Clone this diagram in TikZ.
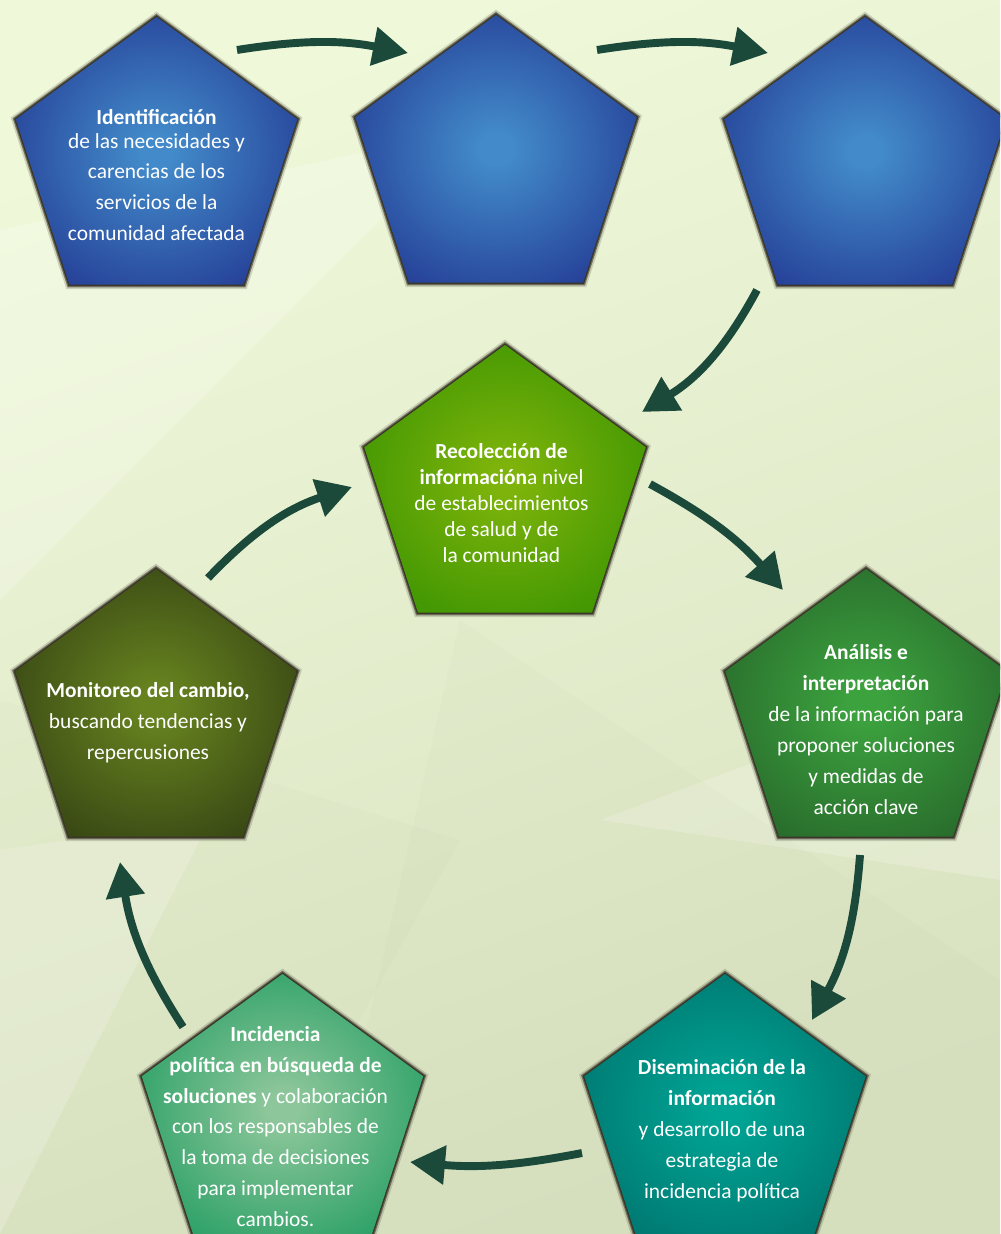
\documentclass[tikz,border=0pt]{standalone}
\usepackage{fontspec}
\setmainfont{Carlito}
\usetikzlibrary{arrows.meta, shapes.geometric}
\definecolor{ciclobg}{HTML}{EFF9DA}
\definecolor{ciclobgd}{HTML}{D8E1BF}
\definecolor{cicloarrow}{HTML}{1B4A3B}
\definecolor{cicloedge}{HTML}{2E281C}
\definecolor{blueinner}{HTML}{428AC9}
\definecolor{blueouter}{HTML}{1E2C8A}
\definecolor{limeinner}{HTML}{7DB30A}
\definecolor{limeouter}{HTML}{2E8E00}
\definecolor{greeninner}{HTML}{3CA23E}
\definecolor{greenouter}{HTML}{235C27}
\definecolor{oliveinner}{HTML}{66821F}
\definecolor{oliveouter}{HTML}{2B3611}
\definecolor{tealinner}{HTML}{00A494}
\definecolor{tealouter}{HTML}{006A66}
\definecolor{jadeinner}{HTML}{8CC69A}
\definecolor{jadeouter}{HTML}{0E9557}
\colorlet{pentin}{blueinner}
\colorlet{pentout}{blueouter}
\pgfdeclareradialshading[pentin,pentout]{pentshade}{\pgfpoint{0bp}{0bp}}{%
  color(0bp)=(pentin); color(3bp)=(pentin); color(37bp)=(pentout); color(50bp)=(pentout)}
\tikzset{
  >={Triangle[length=7mm, width=7.5mm]},
  pent/.style={regular polygon, regular polygon sides=5, minimum size=5.92cm,
               inner sep=0pt, outer sep=0pt, shading=pentshade,
               preaction={draw=cicloedge, line width=5pt, opacity=0.18},
               preaction={draw=cicloedge, line width=3pt, opacity=0.55},
               preaction={draw=cicloedge, line width=1.6pt, opacity=0.8}},
  pentb/.style={pent, /utils/exec={\colorlet{pentin}{blueinner}\colorlet{pentout}{blueouter}}},
  pentl/.style={pent, /utils/exec={\colorlet{pentin}{limeinner}\colorlet{pentout}{limeouter}}},
  pentg/.style={pent, /utils/exec={\colorlet{pentin}{greeninner}\colorlet{pentout}{greenouter}}},
  pento/.style={pent, /utils/exec={\colorlet{pentin}{oliveinner}\colorlet{pentout}{oliveouter}}},
  pentt/.style={pent, /utils/exec={\colorlet{pentin}{tealinner}\colorlet{pentout}{tealouter}}},
  pentj/.style={pent, /utils/exec={\colorlet{pentin}{jadeinner}\colorlet{pentout}{jadeouter}}},
  txt/.style={text=white, align=center, inner sep=0pt, font=\fontsize{12.2}{17.6}\selectfont},
  flow/.style={->, line width=4.5pt, draw=cicloarrow},
  facet/.style={fill=white, opacity=0.2, draw=none},
  facetd/.style={fill=ciclobgd!80!black, opacity=0.05, draw=none},
}

\begin{document}
\begin{tikzpicture}
  \useasboundingbox (0,0) rectangle (20,-24.68);
  \clip (0,0) rectangle (20,-24.68);
  % background
  \shade[top color=ciclobg, bottom color=ciclobgd, shading angle=20] (0,0) rectangle (20,-24.68);
  \fill[facet] (0,-4.6) -- (9.4,-2.6) -- (0,-12) -- cycle;
  \fill[facet] (0,-17) -- (4.2,-16.4) -- (0,-24.68) -- cycle;
  \fill[facet] (12,-16.4) -- (20,-13.4) -- (20,-17.6) -- cycle;
  \fill[facetd] (9.2,-12.4) -- (20,-19.6) -- (20,-24.68) -- (6.4,-24.68) -- cycle;
  \fill[facetd] (0,-14) -- (9.2,-16.8) -- (4.8,-24.68) -- (0,-24.68) -- cycle;

  % pentagons
  \node[pentb] (ident) at (3.13,-3.30) {};
  \node[pentb] (paso2) at (9.92,-3.26) {};
  \node[pentb] (paso3) at (17.30,-3.30) {};
  \node[pentl] (recol) at (10.10,-9.86) {};
  \node[pentg] (anal) at (17.32,-14.34) {};
  \node[pento] (monit) at (3.12,-14.34) {};
  \node[pentt] (disem) at (14.50,-22.44) {};
  \node[pentj] (incid) at (5.65,-22.44) {};

  % texts
  \node[txt, yshift=-2mm] (identtxt) at (ident) {\textbf{Identificación}\\[-4pt]de las necesidades y\\carencias de los\\servicios de la\\comunidad afectada};
  \node[txt, xshift=-0.7mm, yshift=-2mm, font=\fontsize{12.2}{14.8}\selectfont] (recoltxt) at (recol) {\textbf{Recolección de}\\\textbf{información}a nivel\\de establecimientos\\de salud y de\\la comunidad};
  \node[txt, yshift=-2.5mm] (analtxt) at (anal) {\textbf{Análisis e}\\\textbf{interpretación}\\de la información para\\proponer soluciones\\y medidas de\\acción clave};
  \node[txt, xshift=-1.6mm, yshift=-1.2mm] (monittxt) at (monit) {\textbf{Monitoreo del cambio,}\\buscando tendencias y\\repercusiones};
  \node[txt, xshift=-0.6mm, yshift=-1.8mm] (disemtxt) at (disem) {\textbf{Diseminación de la}\\\textbf{información}\\y desarrollo de una\\estrategia de\\incidencia política};
  \node[txt, xshift=-1.4mm, yshift=-0.9mm] (incidtxt) at (incid) {\textbf{Incidencia}\\\textbf{política en búsqueda de}\\\textbf{soluciones} y colaboración\\con los responsables de\\la toma de decisiones\\para implementar\\cambios.};

  % cycle arrows
  \draw[flow] ([shift={(1.61,2.30)}]ident.center) to[bend left=10] ([shift={(-1.76,2.20)}]paso2.center);
  \draw[flow] ([shift={(2.02,2.26)}]paso2.center) to[bend left=10] ([shift={(-1.94,2.24)}]paso3.center);
  \draw[flow] ([shift={(-2.16,-2.50)}]paso3.center) to[bend left=15] ([shift={(2.74,1.62)}]recol.center);
  \draw[flow] ([shift={(2.90,0.18)}]recol.center) to[bend left=10] ([shift={(-1.66,2.54)}]anal.center);
  \draw[flow] ([shift={(-0.12,-2.76)}]anal.center) to[bend left=12] ([shift={(1.74,2.04)}]disem.center);
  \draw[flow] ([shift={(-2.86,-0.62)}]disem.center) to[bend left=8] ([shift={(2.55,-0.80)}]incid.center);
  \draw[flow] ([shift={(-1.99,1.90)}]incid.center) to[bend left=12] ([shift={(-0.72,-2.90)}]monit.center);
  \draw[flow] ([shift={(1.04,2.78)}]monit.center) to[bend left=14] ([shift={(-3.06,0.12)}]recol.center);
\end{tikzpicture}
\end{document}
